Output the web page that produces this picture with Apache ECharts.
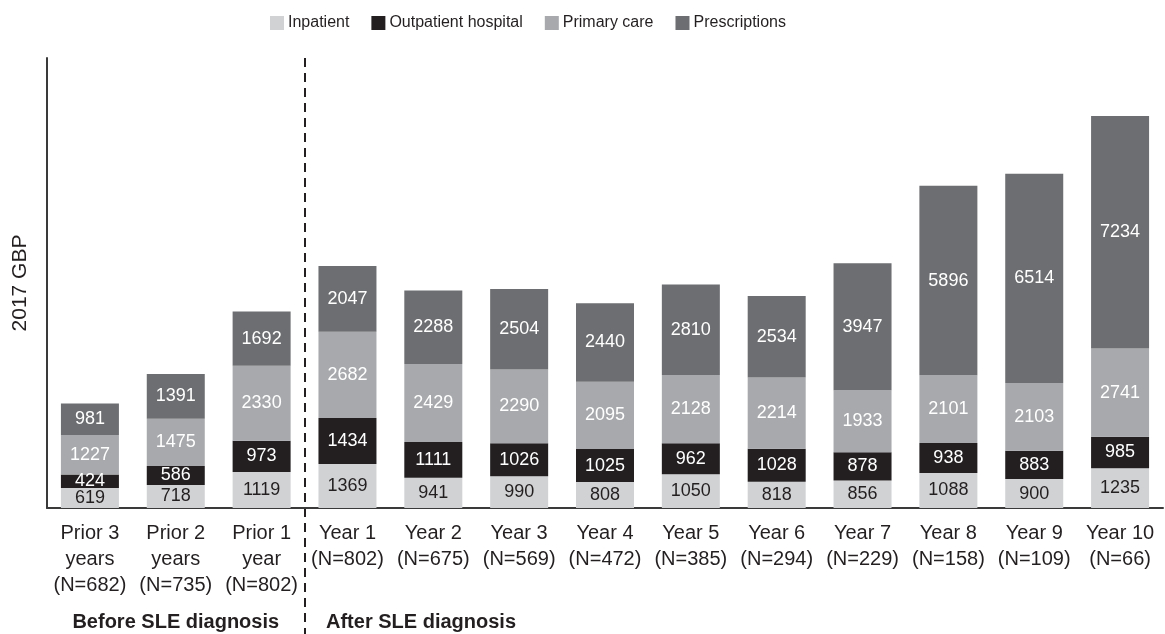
<!DOCTYPE html>
<html>
<head>
<meta charset="utf-8">
<style>html,body{margin:0;padding:0;background:#fff;}#chart{width:1165px;height:634px;}</style>
<script src="https://cdn.jsdelivr.net/npm/echarts@6/dist/echarts.min.js"></script>
</head>
<body>
<div id="chart"></div>
<script>
const categories = [
  "Prior 3\nyears\n(N=682)", "Prior 2\nyears\n(N=735)", "Prior 1\nyear\n(N=802)",
  "Year 1\n(N=802)", "Year 2\n(N=675)", "Year 3\n(N=569)", "Year 4\n(N=472)",
  "Year 5\n(N=385)", "Year 6\n(N=294)", "Year 7\n(N=229)", "Year 8\n(N=158)",
  "Year 9\n(N=109)", "Year 10\n(N=66)"
];
const inpatient     = [619, 718, 1119, 1369, 941, 990, 808, 1050, 818, 856, 1088, 900, 1235];
const outpatient    = [424, 586, 973, 1434, 1111, 1026, 1025, 962, 1028, 878, 938, 883, 985];
const primaryCare   = [1227, 1475, 2330, 2682, 2429, 2290, 2095, 2128, 2214, 1933, 2101, 2103, 2741];
const prescriptions = [981, 1391, 1692, 2047, 2288, 2504, 2440, 2810, 2534, 3947, 5896, 6514, 7234];
const seriesNames = ["Inpatient", "Outpatient hospital", "Primary care", "Prescriptions"];
const groupLabels = ["Before SLE diagnosis", "After SLE diagnosis"];
const yName = "2017 GBP";

const FONT = "'Liberation Sans', Arial, Helvetica, sans-serif";
const colors = ["#d1d2d4", "#231f20", "#a7a9ac", "#6d6e71"];
const labelColors = ["#231f20", "#ffffff", "#ffffff", "#ffffff"];
const dataSets = [inpatient, outpatient, primaryCare, prescriptions];

const chart = echarts.init(document.getElementById('chart'), null, {renderer: 'canvas'});
const option = {
  animation: false,
  backgroundColor: '#ffffff',
  textStyle: {fontFamily: FONT},
  legend: {
    left: 265, top: 10,
    icon: 'rect', itemWidth: 14, itemHeight: 14, itemGap: 22,
    textStyle: {fontFamily: FONT, fontSize: 16, color: '#231f20', padding: [0, 0, 0, -1]},
    data: seriesNames
  },
  grid: {left: 47, right: 2, top: 58, bottom: 126, containLabel: false, outerBoundsMode: 'none'},
  xAxis: {
    type: 'category', data: categories,
    axisLine: {lineStyle: {color: '#3a3a3a', width: 2}},
    axisTick: {show: false},
    axisLabel: {fontFamily: FONT, fontSize: 20, color: '#231f20', lineHeight: 26, margin: 12, interval: 0}
  },
  yAxis: {
    type: 'value', min: 0, max: 14000,
    name: yName, nameLocation: 'middle', nameGap: 16, nameRotate: 90,
    nameTextStyle: {fontFamily: FONT, fontSize: 21, color: '#231f20'},
    axisLine: {show: true, lineStyle: {color: '#3a3a3a', width: 2}},
    axisTick: {show: false}, axisLabel: {show: false}, splitLine: {show: false}
  },
  series: dataSets.map((d, i) => ({
    name: seriesNames[i], type: 'bar', stack: 'total', data: d,
    barWidth: 58,
    itemStyle: {color: colors[i]},
    label: {show: true, position: 'inside', fontFamily: FONT, fontSize: 18, color: labelColors[i]}
  }))
};
chart.setOption(option);

// divider and group labels positioned through the axis scale
const x2 = chart.convertToPixel({xAxisIndex: 0}, 2);
const x3 = chart.convertToPixel({xAxisIndex: 0}, 3);
const x1 = chart.convertToPixel({xAxisIndex: 0}, 1);
const yTop = chart.convertToPixel({yAxisIndex: 0}, 14000);
const divX = Math.round((x2 + x3) / 2);
chart.setOption({
  graphic: [
    {type: 'line', shape: {x1: divX, y1: yTop, x2: divX, y2: 634},
     style: {stroke: '#231f20', lineWidth: 2, lineDash: [9, 6]}},
    {type: 'text', x: x1, y: 622,
     style: {text: groupLabels[0], fontFamily: FONT, fontSize: 20, fontWeight: 'bold', fill: '#231f20', align: 'center', verticalAlign: 'middle'}},
    {type: 'text', x: divX + 21, y: 622,
     style: {text: groupLabels[1], fontFamily: FONT, fontSize: 20, fontWeight: 'bold', fill: '#231f20', align: 'left', verticalAlign: 'middle'}}
  ]
});
</script>
</body>
</html>
